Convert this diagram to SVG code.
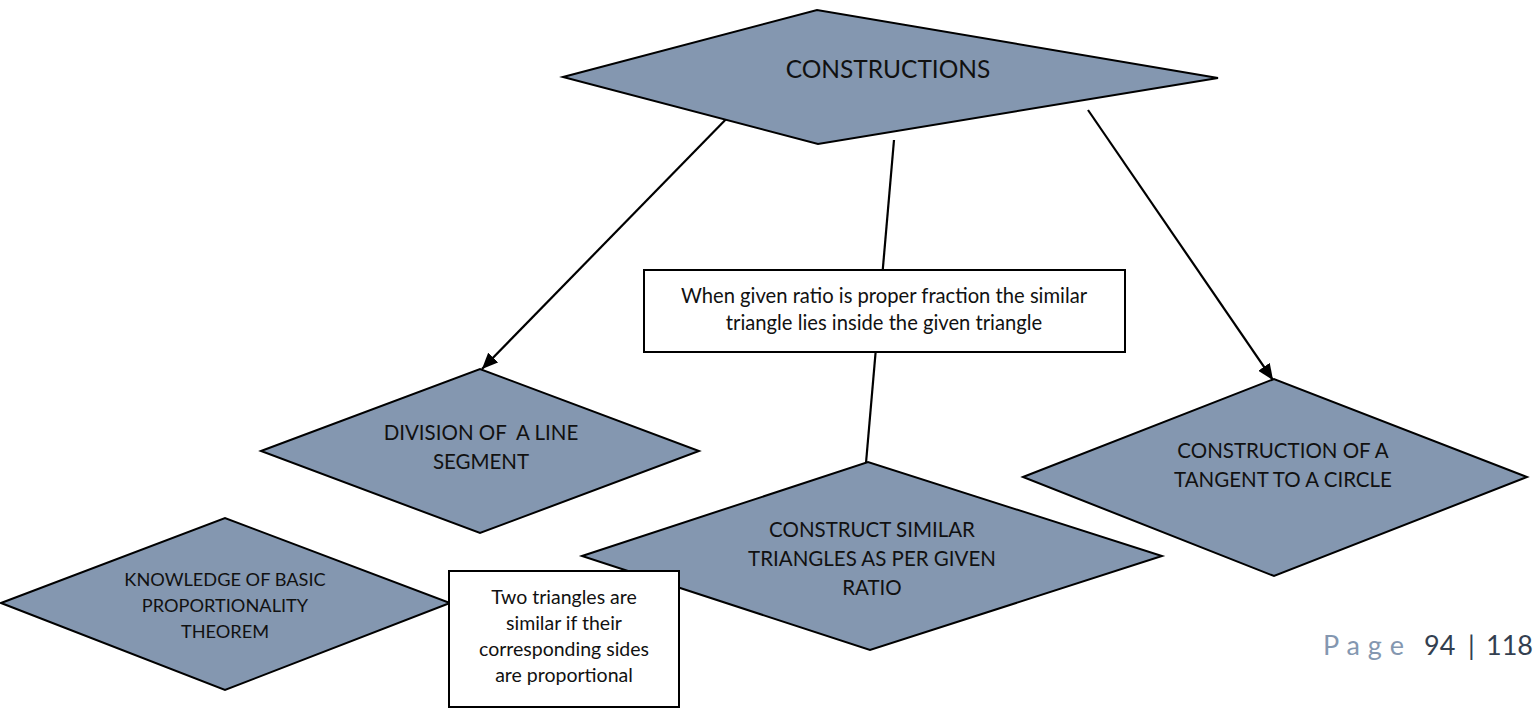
<svg xmlns="http://www.w3.org/2000/svg" width="1534" height="708" viewBox="0 0 1534 708">
<style>
.dia{fill:#8497B0;stroke:#000;stroke-width:2;stroke-linejoin:miter}
.box{fill:#fff;stroke:#000;stroke-width:2}
.con{stroke:#000;stroke-width:2.2;fill:none}
text{font-family:Lato,"Liberation Sans",sans-serif;fill:#111;text-anchor:middle}
.t{font-size:20.5px}
.k{font-size:18.2px}
.b{font-size:19.5px}
.b2{font-size:20.2px}
.ft{font-size:27px;text-anchor:start}
</style>
<defs>
<marker id="arr" markerUnits="userSpaceOnUse" markerWidth="18" markerHeight="14" refX="16" refY="7" orient="auto">
<path d="M0,0 L16,7 L0,14 z" fill="#000"/>
</marker>
</defs>
<rect width="1534" height="708" fill="#fff"/>
<g id="connectors">
<line class="con" x1="735" y1="110" x2="482" y2="369" marker-end="url(#arr)"/>
<line class="con" x1="894" y1="140" x2="866" y2="463"/>
<line class="con" x1="1088" y1="110" x2="1273" y2="380" marker-end="url(#arr)"/>
</g>
<g id="constructions">
<polygon class="dia" points="563,77 817,10 1218,78 818,144"/>
<text x="888" y="78" style="font-size:24.5px">CONSTRUCTIONS</text>
</g>
<g id="ratio-note">
<rect class="box" x="644" y="270" width="481" height="82"/>
<text class="b2" x="884" y="303">When given ratio is proper fraction the similar</text>
<text class="b2" x="884" y="330">triangle lies inside the given triangle</text>
</g>
<g id="division">
<polygon class="dia" points="261,451 480,369 699,451 480,533"/>
<text class="t" x="481" y="440" xml:space="preserve" style="white-space:pre">DIVISION OF  A LINE</text>
<text class="t" x="481" y="469">SEGMENT</text>
</g>
<g id="tangent">
<polygon class="dia" points="1023,477 1274,379 1527,477 1274,576"/>
<text class="t" x="1283" y="458">CONSTRUCTION OF A</text>
<text class="t" x="1283" y="487">TANGENT TO A CIRCLE</text>
</g>
<g id="similar">
<polygon class="dia" points="582,556 868,462 1162,556 870,650"/>
<text class="t" x="872" y="537">CONSTRUCT SIMILAR</text>
<text class="t" x="872" y="566">TRIANGLES AS PER GIVEN</text>
<text class="t" x="872" y="595">RATIO</text>
</g>
<g id="knowledge">
<polygon class="dia" points="1,603 225,518 450,603 225,690"/>
<text class="k" x="225" y="586">KNOWLEDGE OF BASIC</text>
<text class="k" x="225" y="612">PROPORTIONALITY</text>
<text class="k" x="225" y="638">THEOREM</text>
</g>
<g id="similar-note">
<rect class="box" x="449" y="571" width="230" height="136"/>
<text class="b" x="564" y="604">Two triangles are</text>
<text class="b" x="564" y="630">similar if their</text>
<text class="b" x="564" y="656">corresponding sides</text>
<text class="b" x="564" y="682">are proportional</text>
</g>
<g id="footer">
<text class="ft" x="1323" y="655" style="fill:#8497B0;letter-spacing:0.5px">P a g e</text>
<text class="ft" y="655" style="fill:#333F50"><tspan x="1424">94</tspan><tspan x="1468">|</tspan><tspan x="1486">118</tspan></text>
</g>
</svg>
